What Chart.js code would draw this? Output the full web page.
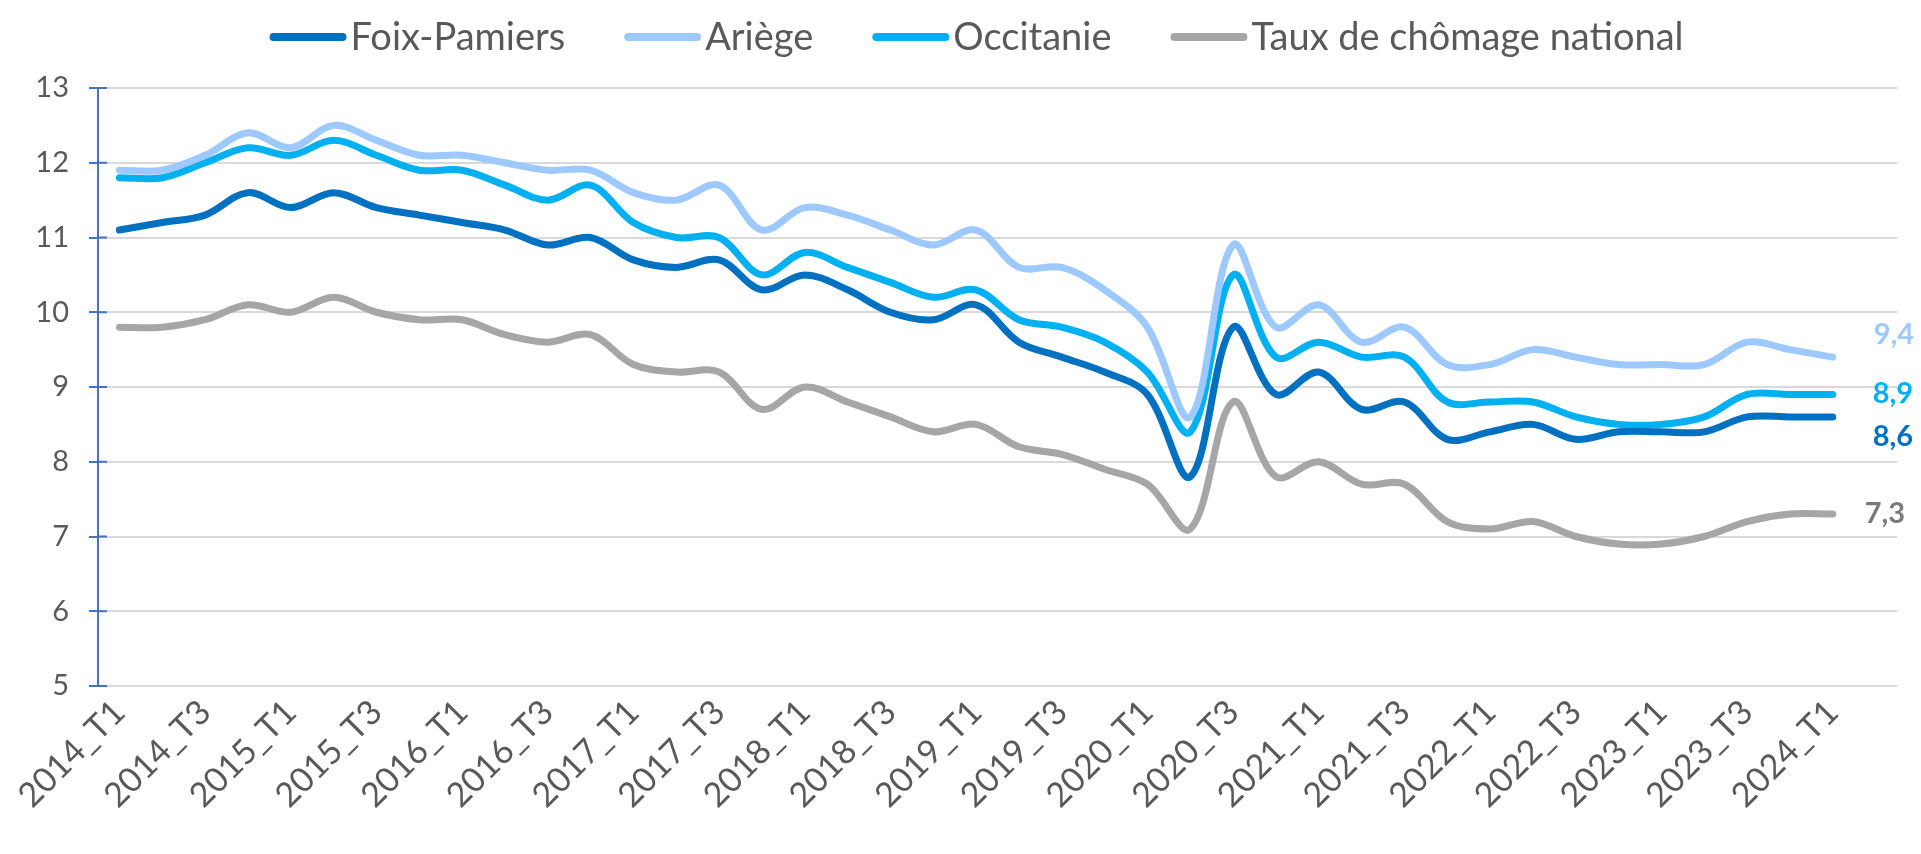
<!DOCTYPE html>
<html lang="fr">
<head>
<meta charset="utf-8">
<title>Taux de chômage</title>
<script src="https://cdn.jsdelivr.net/npm/chart.js@4.4.1/dist/chart.umd.min.js"></script>
<style>
  html, body { margin: 0; padding: 0; background: #fff; overflow: hidden; }
  #wrap { width: 1921px; height: 854px; }
</style>
</head>
<body>
<div id="wrap"><canvas id="myChart"></canvas></div>
<script>
// quarters (the last empty slot is the blank category Excel keeps at the end)
const quarters = [
  '2014_T1','2014_T2','2014_T3','2014_T4',
  '2015_T1','2015_T2','2015_T3','2015_T4',
  '2016_T1','2016_T2','2016_T3','2016_T4',
  '2017_T1','2017_T2','2017_T3','2017_T4',
  '2018_T1','2018_T2','2018_T3','2018_T4',
  '2019_T1','2019_T2','2019_T3','2019_T4',
  '2020_T1','2020_T2','2020_T3','2020_T4',
  '2021_T1','2021_T2','2021_T3','2021_T4',
  '2022_T1','2022_T2','2022_T3','2022_T4',
  '2023_T1','2023_T2','2023_T3','2023_T4',
  '2024_T1',''
];

const foixPamiers = [11.1, 11.2, 11.3, 11.6, 11.4, 11.6, 11.4, 11.3, 11.2, 11.1,
                     10.9, 11.0, 10.7, 10.6, 10.7, 10.3, 10.5, 10.3, 10.0, 9.9,
                     10.1, 9.6, 9.4, 9.2, 8.9, 7.8, 9.8, 8.9, 9.2, 8.7,
                     8.8, 8.3, 8.4, 8.5, 8.3, 8.4, 8.4, 8.4, 8.6, 8.6, 8.6];
const ariege = [11.9, 11.9, 12.1, 12.4, 12.2, 12.5, 12.3, 12.1, 12.1, 12.0,
                11.9, 11.9, 11.6, 11.5, 11.7, 11.1, 11.4, 11.3, 11.1, 10.9,
                11.1, 10.6, 10.6, 10.3, 9.8, 8.6, 10.9, 9.8, 10.1, 9.6,
                9.8, 9.3, 9.3, 9.5, 9.4, 9.3, 9.3, 9.3, 9.6, 9.5, 9.4];
const occitanie = [11.8, 11.8, 12.0, 12.2, 12.1, 12.3, 12.1, 11.9, 11.9, 11.7,
                   11.5, 11.7, 11.2, 11.0, 11.0, 10.5, 10.8, 10.6, 10.4, 10.2,
                   10.3, 9.9, 9.8, 9.6, 9.2, 8.4, 10.5, 9.4, 9.6, 9.4,
                   9.4, 8.8, 8.8, 8.8, 8.6, 8.5, 8.5, 8.6, 8.9, 8.9, 8.9];
const national = [9.8, 9.8, 9.9, 10.1, 10.0, 10.2, 10.0, 9.9, 9.9, 9.7,
                  9.6, 9.7, 9.3, 9.2, 9.2, 8.7, 9.0, 8.8, 8.6, 8.4,
                  8.5, 8.2, 8.1, 7.9, 7.7, 7.1, 8.8, 7.8, 8.0, 7.7,
                  7.7, 7.2, 7.1, 7.2, 7.0, 6.9, 6.9, 7.0, 7.2, 7.3, 7.3];

const yTicks = [5, 6, 7, 8, 9, 10, 11, 12, 13];

const FONT = 'Lato';
const TEXT_GREY = '#595959';
const AXIS_BLUE = '#4472C4';

function makeSet(label, data, color, labelColor, dx, dy) {
  return {
    label: label,
    data: data,
    borderColor: color,
    backgroundColor: color,
    borderWidth: 7,
    borderCapStyle: 'round',
    borderJoinStyle: 'round',
    pointRadius: 0,
    pointHoverRadius: 0,
    tension: 0.35,
    fill: false,
    endLabelColor: labelColor,
    endLabelDx: dx,
    endLabelDy: dy
  };
}

// legend drawn like Excel: short thick line, text right next to it
const topLegend = {
  id: 'topLegend',
  afterDraw(chart) {
    const ctx = chart.ctx;
    const lineLen = 77, textGap = 4, itemGap = 59, y = 37;
    ctx.save();
    ctx.font = '38px ' + FONT;
    ctx.textBaseline = 'middle';
    const items = chart.data.datasets.map(ds => ({
      text: ds.label, color: ds.borderColor, w: ctx.measureText(ds.label).width
    }));
    let total = itemGap * (items.length - 1);
    items.forEach(it => { total += lineLen + textGap + it.w; });
    let x = (chart.width - total) / 2 + 16;
    items.forEach(it => {
      ctx.strokeStyle = it.color;
      ctx.lineWidth = 8;
      ctx.lineCap = 'round';
      ctx.beginPath();
      ctx.moveTo(x + 4, y);
      ctx.lineTo(x + lineLen - 4, y);
      ctx.stroke();
      ctx.fillStyle = TEXT_GREY;
      ctx.fillText(it.text, x + lineLen + textGap, y + 1);
      x += lineLen + textGap + it.w + itemGap;
    });
    ctx.restore();
  }
};

// value of the last quarter at the end of each line
const endLabels = {
  id: 'endLabels',
  afterDatasetsDraw(chart) {
    const ctx = chart.ctx;
    ctx.save();
    ctx.font = 'bold 29px ' + FONT;
    ctx.textBaseline = 'middle';
    ctx.textAlign = 'left';
    chart.data.datasets.forEach((ds, i) => {
      const meta = chart.getDatasetMeta(i);
      const last = ds.data.length - 1;
      const pt = meta.data[last];
      ctx.fillStyle = ds.endLabelColor;
      ctx.fillText(ds.data[last].toFixed(1).replace('.', ','), pt.x + ds.endLabelDx, pt.y + ds.endLabelDy);
    });
    ctx.restore();
  }
};

// Excel "cross" tick marks: the inner half of each tick on the value axis
const innerTicks = {
  id: 'innerTicks',
  afterDraw(chart) {
    const ys = chart.scales.y;
    const ctx = chart.ctx;
    ctx.save();
    ctx.strokeStyle = AXIS_BLUE;
    ctx.lineWidth = 2;
    ctx.beginPath();
    ys.ticks.forEach((t, i) => {
      const py = ys.getPixelForTick(i);
      ctx.moveTo(ys.right, py);
      ctx.lineTo(ys.right + 9, py);
    });
    ctx.stroke();
    ctx.restore();
  }
};

const myChart = new Chart(document.getElementById('myChart').getContext('2d'), {
  type: 'line',
  data: {
    labels: quarters,
    datasets: [
      makeSet('Foix-Pamiers', foixPamiers, '#0070C0', '#0070C0', 40, 20),
      makeSet('Ariège', ariege, '#9DC9FF', '#9DC9FF', 41, -22),
      makeSet('Occitanie', occitanie, '#00B0F0', '#00B0F0', 40, -1),
      makeSet('Taux de chômage national', national, '#A6A6A6', '#7A7A7A', 32, 0)
    ]
  },
  options: {
    responsive: true,
    maintainAspectRatio: false,
    animation: false,
    layout: { padding: { top: 88, right: 24, bottom: 0, left: 0 } },
    plugins: {
      legend: { display: false },
      tooltip: { enabled: false }
    },
    scales: {
      x: {
        offset: true,
        grid: { display: false, drawTicks: false },
        border: { display: false },
        ticks: {
          autoSkip: false,
          maxRotation: 45,
          minRotation: 45,
          padding: 6,
          color: TEXT_GREY,
          font: { family: FONT, size: 34 },
          callback: function (val, idx) {
            return (idx % 2 === 0 && quarters[idx]) ? quarters[idx] : null;
          }
        },
        afterFit: function (scale) { scale.height = 168; }
      },
      y: {
        min: 5,
        max: 13,
        afterBuildTicks: function (scale) { scale.ticks = yTicks.map(v => ({ value: v })); },
        grid: {
          color: '#D9D9D9',
          lineWidth: 2,
          drawTicks: true,
          tickLength: 9,
          tickColor: AXIS_BLUE,
          tickWidth: 2
        },
        border: { display: true, color: AXIS_BLUE, width: 2 },
        ticks: {
          padding: 20,
          color: TEXT_GREY,
          font: { family: FONT, size: 29 }
        },
        afterFit: function (scale) { scale.width = 98; }
      }
    }
  },
  plugins: [topLegend, endLabels, innerTicks]
});
</script>
</body>
</html>
